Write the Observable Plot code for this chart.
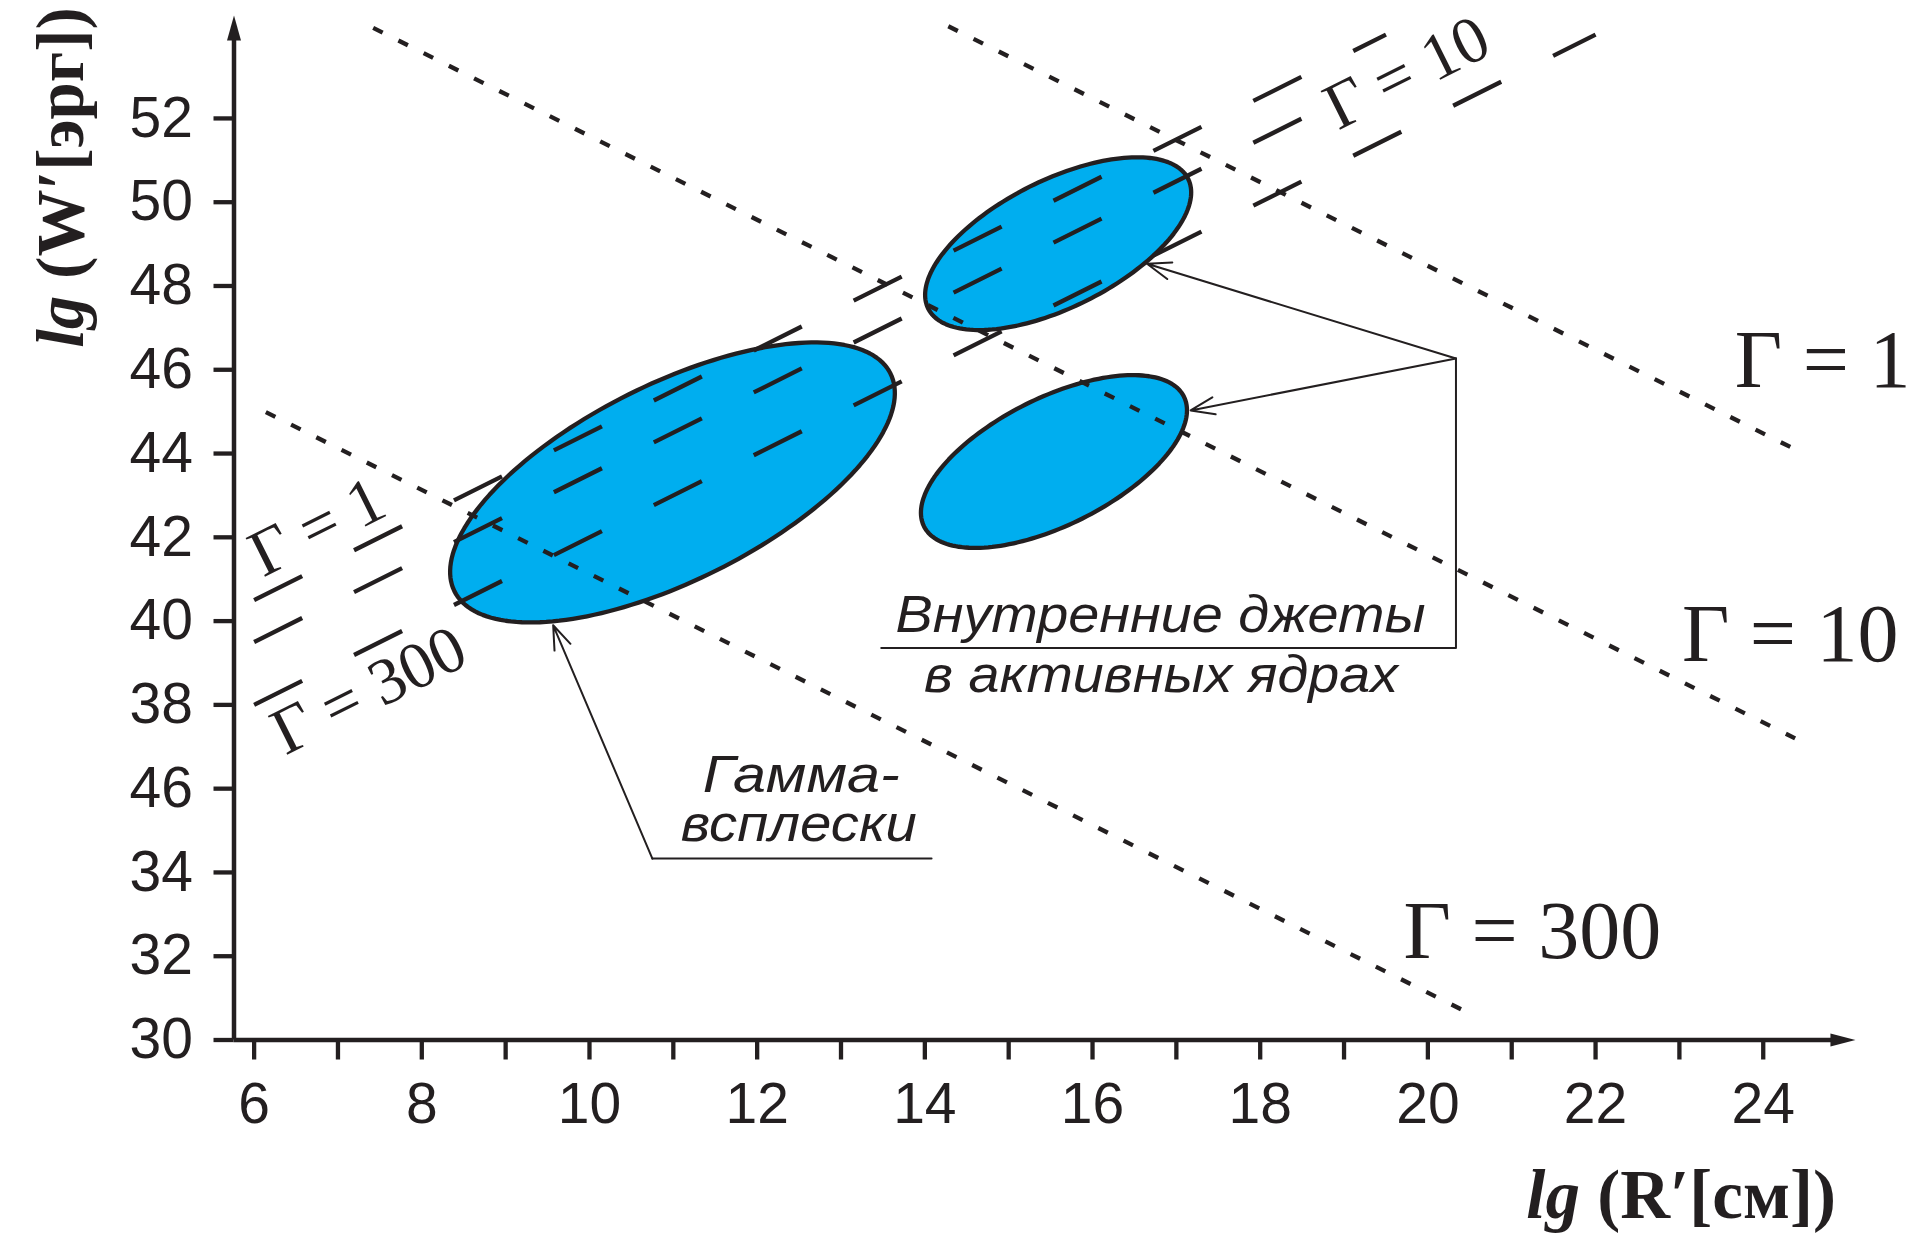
<!DOCTYPE html>
<html>
<head>
<meta charset="utf-8">
<script src="https://cdn.jsdelivr.net/npm/d3@7"></script>
<script src="https://cdn.jsdelivr.net/npm/@observablehq/plot@0.6"></script>
<style>
  html, body { margin: 0; padding: 0; background: #fff; overflow: hidden; }
  #chart svg { display: block; }
</style>
</head>
<body>
<div id="chart"></div>
<script>
// ---------------- data ----------------
// axes
const xTicks = [6, 7, 8, 9, 10, 11, 12, 13, 14, 15, 16, 17, 18, 19, 20, 21, 22, 23, 24];
const xTickLabels = ["6", "", "8", "", "10", "", "12", "", "14", "", "16", "", "18", "", "20", "", "22", "", "24"];
const yTicks = [30, 32, 34, 36, 38, 40, 42, 44, 46, 48, 50, 52];
const yTickLabels = ["30", "32", "34", "46", "38", "40", "42", "44", "46", "48", "50", "52"];
const xTitle = "lg (R′[см])";
const yTitle = "lg (W′[эрг])";

// dotted lines (lgW falls with lgR)
const dottedGamma = ["Γ = 1", "Γ = 10", "Γ = 300"];
const dottedX1 = [14.28, 7.42, 6.14];
const dottedY1 = [54.20, 54.16, 44.99];
const dottedX2 = [24.44, 24.38, 20.52];
const dottedY2 = [44.04, 37.20, 30.61];

// long-dashed lines (lgW rises with lgR)
const dashedGamma = ["Γ = 1", "Γ = 10", "Γ = 300"];
const dashedX1 = [6.0, 6.0, 6.0];
const dashedY1 = [40.5, 39.5, 38.0];
const dashedX2 = [19.5, 18.6, 22.0];
const dashedY2 = [54.0, 52.1, 54.0];

// shaded regions (ellipses): centre, half-span along the diagonal (lgR units), half-width across (lgW units)
const regionName = ["Гамма-всплески", "Джеты (верх)", "Джеты (низ)"];
const regionCx = [10.99, 15.59, 15.54];
const regionCy = [43.31, 49.01, 43.81];
const regionMajor = [2.60, 1.55, 1.55];
const regionMinor = [2.10, 1.36, 1.36];

// captions
const captionText = ["Внутренние джеты", "в активных ядрах", "Гамма-", "всплески"];
const captionX = [13.65, 13.99, 11.35, 11.09];
const captionY = [39.75, 38.31, 35.91, 34.76];

// leader lines
const jetLeaderX = [13.48, 20.335, 20.335];
const jetLeaderY = [39.36, 39.36, 46.27];
const jetArrowX2 = [16.65, 17.17];
const jetArrowY2 = [48.53, 45.03];
const grbLeaderX = [14.08, 10.75];
const grbLeaderY = [34.33, 34.33];
const grbArrowX2 = [9.567];
const grbArrowY2 = [39.90];

// Γ labels
const gammaLabel = ["Γ = 1", "Γ = 10", "Γ = 300"];
const gammaLabelX = [23.66, 23.03, 19.71];
const gammaLabelY = [45.58, 39.04, 31.95];
const gammaSlantX = [6.11, 18.93, 6.375];
const gammaSlantY = [41.04, 51.71, 36.79];

// axis extents
const xDomain = [5.76, 25.5];
const yDomain = [30, 54.5];
const xAxisEnd = 25.1;
const yAxisEnd = 54.46;

// ---------------- layout / style ----------------
const W = 1915, H = 1234;
const mL = 233.5, mR = 26.5, mT = 13.2, mB = 194.5;
const kx = (W - mL - mR) / (xDomain[1] - xDomain[0]);
const ky = (H - mT - mB) / (yDomain[1] - yDomain[0]);
const aspect2 = (ky / kx) ** 2;
const slantDeg = -Math.atan(ky / kx) * 180 / Math.PI;

const INK = "#231f20";
const CYAN = "#00aeef";
const SANS = "'Liberation Sans', Arial, Helvetica, sans-serif";
const SERIF = "'Liberation Serif', 'Times New Roman', serif";
const captionStretch = { "Внутренние джеты": 530, "в активных ядрах": 474, "Гамма-": 197, "всплески": 236 };

const ellipsePts = regionName.flatMap((name, i) =>
  d3.range(0, 360, 2).map(deg => {
    const t = deg * Math.PI / 180;
    return {
      name,
      x: regionCx[i] + regionMajor[i] * Math.cos(t) + aspect2 * regionMinor[i] * Math.sin(t),
      y: regionCy[i] + regionMajor[i] * Math.cos(t) - regionMinor[i] * Math.sin(t)
    };
  })
);

const xLabelMap = new Map(xTicks.map((d, i) => [d, xTickLabels[i]]));
const yLabelMap = new Map(yTicks.map((d, i) => [d, yTickLabels[i]]));

const arrowUp = { draw(ctx) { ctx.moveTo(0, 0); ctx.lineTo(7, 25); ctx.lineTo(-7, 25); ctx.closePath(); } };
const arrowRight = { draw(ctx) { ctx.moveTo(0, 0); ctx.lineTo(-25, 6.5); ctx.lineTo(-25, -6.5); ctx.closePath(); } };

const jetLeader = jetLeaderX.map((x, i) => ({ x, y: jetLeaderY[i] }));
const grbLeader = grbLeaderX.map((x, i) => ({ x, y: grbLeaderY[i] }));

const plot = Plot.plot({
  width: W,
  height: H,
  marginLeft: mL, marginRight: mR, marginTop: mT, marginBottom: mB,
  x: { domain: xDomain },
  y: { domain: yDomain },
  style: { background: "#fff", color: INK, fontFamily: SANS, overflow: "visible" },
  marks: [
    // regions
    Plot.line(ellipsePts, { x: "x", y: "y", z: "name", fill: CYAN, stroke: INK, strokeWidth: 4.3, curve: "linear-closed" }),
    // long-dashed lines
    Plot.link(dashedGamma, {
      x1: (d, i) => dashedX1[i], y1: (d, i) => dashedY1[i],
      x2: (d, i) => dashedX2[i], y2: (d, i) => dashedY2[i],
      stroke: INK, strokeWidth: 4.3, strokeDasharray: "53.7,58", strokeLinecap: "butt"
    }),
    // dotted lines
    Plot.link(dottedGamma, {
      x1: (d, i) => dottedX1[i], y1: (d, i) => dottedY1[i],
      x2: (d, i) => dottedX2[i], y2: (d, i) => dottedY2[i],
      stroke: INK, strokeWidth: 4.3, strokeDasharray: "10.6,17.6", strokeLinecap: "butt"
    }),
    // axis lines with arrowheads
    Plot.ruleX([xDomain[0]], { y1: yDomain[0], y2: yAxisEnd - 0.3, stroke: INK, strokeWidth: 4.5 }),
    Plot.ruleY([yDomain[0]], { x1: xDomain[0], x2: xAxisEnd - 0.15, stroke: INK, strokeWidth: 4.5 }),
    Plot.dot([{ x: xDomain[0], y: yAxisEnd }], { x: "x", y: "y", symbol: arrowUp, r: 5, fill: INK, stroke: "none" }),
    Plot.dot([{ x: xAxisEnd, y: yDomain[0] }], { x: "x", y: "y", symbol: arrowRight, r: 5, fill: INK, stroke: "none" }),
    Plot.axisX(xTicks, {
      anchor: "bottom", tickSize: 20, tickPadding: 23, strokeWidth: 4.3, color: INK,
      tickFormat: d => xLabelMap.get(d), fontSize: 57, fontFamily: SANS, label: null
    }),
    Plot.axisY(yTicks, {
      anchor: "left", tickSize: 20, tickPadding: 21, strokeWidth: 4.3, color: INK,
      tickFormat: d => yLabelMap.get(d), fontSize: 57, fontFamily: SANS, label: null
    }),
    // leader lines
    Plot.line(jetLeader, { x: "x", y: "y", stroke: INK, strokeWidth: 2 }),
    Plot.line(grbLeader, { x: "x", y: "y", stroke: INK, strokeWidth: 2 }),
    Plot.arrow(jetArrowX2, {
      x1: jetLeaderX[2], y1: jetLeaderY[2],
      x2: (d, i) => jetArrowX2[i], y2: (d, i) => jetArrowY2[i],
      stroke: INK, strokeWidth: 2, headLength: 19, headAngle: 40
    }),
    Plot.arrow(grbArrowX2, {
      x1: grbLeaderX[1], y1: grbLeaderY[1],
      x2: (d, i) => grbArrowX2[i], y2: (d, i) => grbArrowY2[i],
      stroke: INK, strokeWidth: 2, headLength: 19, headAngle: 40
    }),
    // captions
    Plot.text(captionText, {
      x: (d, i) => captionX[i], y: (d, i) => captionY[i], text: d => d,
      textAnchor: "start", lineAnchor: "bottom", fontSize: 52, fontStyle: "italic",
      fontFamily: SANS, fill: INK
    }),
    // Γ labels of the dotted lines
    Plot.text(gammaLabel, {
      x: (d, i) => gammaLabelX[i], y: (d, i) => gammaLabelY[i], text: d => d,
      textAnchor: "start", lineAnchor: "bottom", fontSize: 82, fontFamily: SERIF, fill: INK
    }),
    // Γ labels of the dashed lines (slanted)
    Plot.text(gammaLabel, {
      x: (d, i) => gammaSlantX[i], y: (d, i) => gammaSlantY[i], text: d => d,
      textAnchor: "start", lineAnchor: "bottom", fontSize: 66, fontFamily: SERIF,
      rotate: slantDeg, fill: INK
    }),
    // axis titles
    Plot.text([yTitle], {
      x: () => 3.96, y: () => 50.59, text: d => d, rotate: -90,
      textAnchor: "middle", lineAnchor: "bottom", fontSize: 67, fontWeight: "bold",
      fontFamily: SERIF, fill: INK
    }),
    Plot.text([xTitle], {
      x: () => 23.02, y: () => 25.75, text: d => d,
      textAnchor: "middle", lineAnchor: "bottom", fontSize: 69, fontWeight: "bold",
      fontFamily: SERIF, fill: INK
    })
  ]
});

const ns = "http://www.w3.org/2000/svg";
plot.querySelectorAll("text").forEach(t => {
  const s = t.textContent;
  // italic "lg" in axis titles
  if (s === xTitle || s === yTitle) {
    t.textContent = "";
    const a = document.createElementNS(ns, "tspan");
    a.setAttribute("font-style", "italic");
    a.textContent = "lg";
    const b = document.createElementNS(ns, "tspan");
    b.textContent = s.slice(2);
    t.append(a, b);
  }
  // captions set in a slightly wider face in the original
  if (captionStretch[s]) {
    t.setAttribute("textLength", captionStretch[s]);
    t.setAttribute("lengthAdjust", "spacingAndGlyphs");
  }
});

document.getElementById("chart").appendChild(plot);
</script>
</body>
</html>
